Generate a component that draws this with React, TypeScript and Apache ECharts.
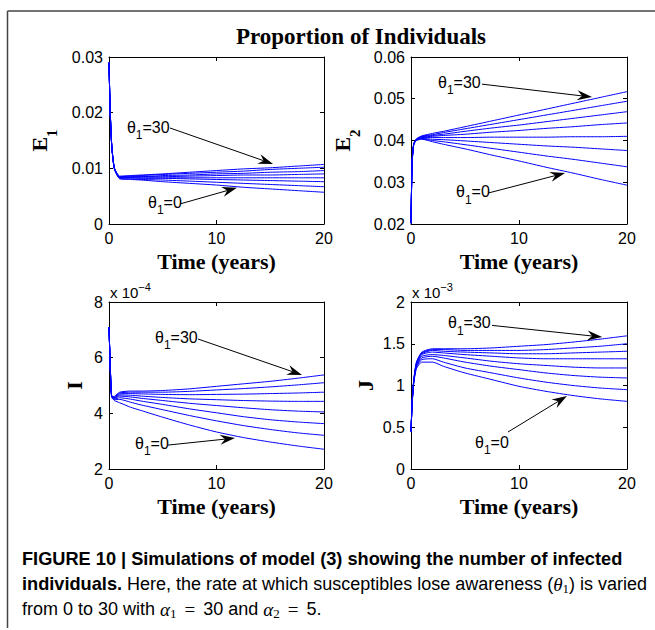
import React, { useEffect, useRef } from "react";
import * as echarts from "echarts";

const FONT_SANS = "'Liberation Sans', Arial, Helvetica, sans-serif";
const FONT_SERIF = "'Liberation Serif', 'Times New Roman', serif";

// ---------- data ----------
const TIME = [0, 0.1, 0.25, 0.5, 1, 2, 3, 5, 7.5, 10, 12.5, 15, 17.5, 20];
const TIME_TICKS = { min: 0, max: 20, interval: 10 };

// E1 (theta1 = 0 ... 30, bottom to top at t = 20)
const E1_0 = [0.029, 0.021, 0.0142, 0.0099, 0.0081, 0.008, 0.0079, 0.0076, 0.0073, 0.007, 0.0066, 0.0063, 0.006, 0.0057];
const E1_1 = [0.029, 0.021, 0.0142, 0.0099, 0.0082, 0.0081, 0.008, 0.0079, 0.0077, 0.0075, 0.0073, 0.0071, 0.0069, 0.0067];
const E1_2 = [0.029, 0.021, 0.0142, 0.01, 0.0083, 0.0083, 0.0082, 0.0082, 0.0081, 0.008, 0.0079, 0.0078, 0.0077, 0.0076];
const E1_3 = [0.029, 0.021, 0.0142, 0.01, 0.0083, 0.0083, 0.0083, 0.0083, 0.0083, 0.0083, 0.0083, 0.0083, 0.0083, 0.0083];
const E1_4 = [0.029, 0.021, 0.0142, 0.01, 0.0084, 0.0084, 0.0085, 0.0085, 0.0086, 0.0087, 0.0088, 0.0088, 0.0089, 0.009];
const E1_5 = [0.029, 0.021, 0.0142, 0.01, 0.0084, 0.0085, 0.0085, 0.0087, 0.0088, 0.009, 0.0091, 0.0093, 0.0094, 0.0096];
const E1_6 = [0.029, 0.021, 0.0142, 0.0101, 0.0085, 0.0086, 0.0087, 0.0089, 0.0091, 0.0093, 0.0095, 0.0098, 0.01, 0.0102];
const E1_7 = [0.029, 0.021, 0.0142, 0.0101, 0.0086, 0.0087, 0.0088, 0.009, 0.0093, 0.0096, 0.0099, 0.0101, 0.0104, 0.0107];

// E2
const E2_0 = [0.0202, 0.0345, 0.039, 0.04, 0.0403, 0.0397, 0.0391, 0.038, 0.0365, 0.0351, 0.0336, 0.0322, 0.0307, 0.0293];
const E2_1 = [0.0202, 0.0345, 0.039, 0.0401, 0.0404, 0.04, 0.0397, 0.039, 0.0381, 0.0372, 0.0363, 0.0355, 0.0346, 0.0337];
const E2_2 = [0.0202, 0.0345, 0.039, 0.0401, 0.0405, 0.0403, 0.0402, 0.0399, 0.0395, 0.0391, 0.0387, 0.0384, 0.038, 0.0376];
const E2_3 = [0.0202, 0.0345, 0.0391, 0.0402, 0.0407, 0.0407, 0.0407, 0.0407, 0.0408, 0.0408, 0.0408, 0.0409, 0.0409, 0.041];
const E2_4 = [0.0202, 0.0345, 0.0391, 0.0402, 0.0408, 0.041, 0.0412, 0.0415, 0.042, 0.0424, 0.0429, 0.0433, 0.0438, 0.0442];
const E2_5 = [0.0202, 0.0345, 0.0391, 0.0403, 0.0409, 0.0412, 0.0415, 0.0422, 0.043, 0.0437, 0.0445, 0.0453, 0.0461, 0.0469];
const E2_6 = [0.0202, 0.0345, 0.0392, 0.0403, 0.041, 0.0414, 0.0419, 0.0428, 0.0439, 0.045, 0.0461, 0.0472, 0.0483, 0.0494];
const E2_7 = [0.0202, 0.0345, 0.0392, 0.0404, 0.0411, 0.0417, 0.0422, 0.0433, 0.0447, 0.0461, 0.0475, 0.0489, 0.0503, 0.0517];

// I (units of 1e-4)
const I_0 = [7.1, 5.9, 4.6, 4.46, 4.38, 4.22, 4.1, 3.86, 3.58, 3.33, 3.13, 2.97, 2.83, 2.71];
const I_1 = [7.1, 5.9, 4.6, 4.49, 4.5, 4.4, 4.3, 4.13, 3.92, 3.73, 3.56, 3.42, 3.3, 3.21];
const I_2 = [7.1, 5.9, 4.6, 4.51, 4.56, 4.51, 4.44, 4.32, 4.16, 4.02, 3.88, 3.77, 3.69, 3.63];
const I_3 = [7.1, 5.9, 4.6, 4.53, 4.62, 4.59, 4.54, 4.46, 4.36, 4.28, 4.2, 4.13, 4.08, 4.05];
const I_4 = [7.1, 5.9, 4.6, 4.55, 4.66, 4.65, 4.62, 4.57, 4.52, 4.49, 4.46, 4.44, 4.43, 4.43];
const I_5 = [7.1, 5.9, 4.6, 4.57, 4.7, 4.71, 4.7, 4.68, 4.67, 4.68, 4.69, 4.71, 4.73, 4.76];
const I_6 = [7.1, 5.9, 4.6, 4.59, 4.73, 4.76, 4.76, 4.76, 4.79, 4.84, 4.89, 4.95, 5.02, 5.1];
const I_7 = [7.1, 5.9, 4.6, 4.61, 4.76, 4.8, 4.8, 4.82, 4.88, 4.97, 5.06, 5.15, 5.26, 5.38];

// J (units of 1e-3)
const J_0 = [0.45, 0.76, 1.02, 1.2, 1.28, 1.28, 1.23, 1.15, 1.07, 0.99, 0.93, 0.88, 0.84, 0.81];
const J_1 = [0.45, 0.77, 1.03, 1.22, 1.31, 1.32, 1.28, 1.21, 1.15, 1.09, 1.04, 1.0, 0.97, 0.95];
const J_2 = [0.45, 0.77, 1.04, 1.23, 1.33, 1.35, 1.33, 1.28, 1.23, 1.19, 1.15, 1.12, 1.1, 1.09];
const J_3 = [0.45, 0.77, 1.04, 1.24, 1.35, 1.37, 1.36, 1.33, 1.29, 1.26, 1.24, 1.22, 1.21, 1.21];
const J_4 = [0.45, 0.78, 1.05, 1.25, 1.37, 1.4, 1.39, 1.37, 1.35, 1.33, 1.32, 1.32, 1.32, 1.32];
const J_5 = [0.45, 0.78, 1.05, 1.26, 1.38, 1.42, 1.41, 1.4, 1.39, 1.38, 1.38, 1.39, 1.4, 1.41];
const J_6 = [0.45, 0.78, 1.06, 1.27, 1.39, 1.43, 1.43, 1.42, 1.42, 1.42, 1.43, 1.45, 1.47, 1.5];
const J_7 = [0.45, 0.78, 1.06, 1.28, 1.4, 1.44, 1.44, 1.44, 1.45, 1.47, 1.49, 1.52, 1.555, 1.595];

const Y_AXES = [
  { name: "{b|E}{s|1}", min: 0, max: 0.03, interval: 0.01, exponent: "" },
  { name: "{b|E}{s|2}", min: 0.02, max: 0.06, interval: 0.01, exponent: "" },
  { name: "{b|I}", min: 2, max: 8, interval: 2, exponent: "−4" },
  { name: "{b|J}", min: 0, max: 2, interval: 0.5, exponent: "−3" },
];
const CURVES = [
  [E1_0, E1_1, E1_2, E1_3, E1_4, E1_5, E1_6, E1_7],
  [E2_0, E2_1, E2_2, E2_3, E2_4, E2_5, E2_6, E2_7],
  [I_0, I_1, I_2, I_3, I_4, I_5, I_6, I_7],
  [J_0, J_1, J_2, J_3, J_4, J_5, J_6, J_7],
];
const LABEL_HIGH = "30";
const LABEL_LOW = "0";
// annotation anchors in data coordinates: [label left t, label y, arrow start t, y, arrow tip t, y]
const ANN_HIGH = [
  [1.67, 0.0174, 5.67, 0.01725, 15.26, 0.01078],
  [2.5, 0.054, 6.57, 0.0535, 16.76, 0.0504],
  [4.28, 6.74, 8.28, 6.67, 17.95, 5.38],
  [3.43, 1.75, 7.5, 1.72, 17.7, 1.58],
];
const ANN_LOW = [
  [3.63, 0.0039, 6.6, 0.0036, 11.9, 0.0065],
  [4.17, 0.0277, 7.13, 0.0274, 14.26, 0.0322],
  [2.42, 2.93, 5.49, 2.86, 11.72, 3.11],
  [5.93, 0.32, 8.98, 0.443, 14.44, 0.874],
];

const TITLE = "Proportion of Individuals";
const X_NAME = "Time (years)";
const CAPTION_LINES = [
  "{b|FIGURE 10 | Simulations of model (3) showing the number of infected}",
  "{b|individuals.}{r| Here, the rate at which susceptibles lose awareness (}{m|θ}{s|1}{r|) is varied}",
  "{r|from 0 to 30 with }{m|α}{s|1}{q|=}{r|30 and }{m|α}{s|2}{q|=}{r|5.}",
];

// ---------- layout ----------
const GRIDS = [
  { left: 109, top: 57, width: 215, height: 167 },
  { left: 411, top: 57, width: 216, height: 167 },
  { left: 109, top: 302, width: 215, height: 167 },
  { left: 411, top: 302, width: 216, height: 167 },
];
const NAME_GAPS = [50, 49, 24, 35];

const AX_COLOR = "#000";

function buildOption() {
  const xAxis: any[] = [];
  const yAxis: any[] = [];
  const series: any[] = [];
  GRIDS.forEach((_, g) => {
    const common = {
      type: "value",
      gridIndex: g,
      min: TIME_TICKS.min,
      max: TIME_TICKS.max,
      interval: TIME_TICKS.interval,
      splitLine: { show: false },
      axisLine: { show: true, onZero: false, lineStyle: { color: AX_COLOR, width: 1 } },
      axisTick: { show: true, inside: true, length: 4, lineStyle: { color: AX_COLOR } },
    };
    xAxis.push({
      ...common,
      position: "bottom",
      axisLabel: { color: "#000", fontFamily: FONT_SANS, fontSize: 16, margin: 6 },
      name: X_NAME,
      nameLocation: "middle",
      nameGap: 26,
      nameTextStyle: { fontFamily: FONT_SERIF, fontWeight: "bold", fontSize: 22, color: "#000" },
    });
    xAxis.push({ ...common, position: "top", axisLabel: { show: false } });
    const ya = Y_AXES[g];
    const ycommon = {
      type: "value",
      gridIndex: g,
      min: ya.min,
      max: ya.max,
      interval: ya.interval,
      splitLine: { show: false },
      axisLine: { show: true, onZero: false, lineStyle: { color: AX_COLOR, width: 1 } },
      axisTick: { show: true, inside: true, length: 4, lineStyle: { color: AX_COLOR } },
    };
    yAxis.push({
      ...ycommon,
      position: "left",
      axisLabel: { color: "#000", fontFamily: FONT_SANS, fontSize: 16, margin: 6 },
      name: ya.name,
      nameLocation: "middle",
      nameRotate: 90,
      nameGap: NAME_GAPS[g],
      nameTextStyle: {
        color: "#000",
        rich: {
          b: { fontFamily: FONT_SERIF, fontWeight: "bold", fontSize: 22, lineHeight: 22, verticalAlign: "top", color: "#000" },
          s: { fontFamily: FONT_SERIF, fontWeight: "bold", fontSize: 15, lineHeight: 31, verticalAlign: "bottom", color: "#000" },
        },
      },
    });
    yAxis.push({ ...ycommon, position: "right", axisLabel: { show: false } });
    CURVES[g].forEach((curve, k) => {
      series.push({
        type: "line",
        name: `panel ${g + 1} curve ${k + 1}`,
        xAxisIndex: 2 * g,
        yAxisIndex: 2 * g,
        data: TIME.map((t, i) => [t, curve[i]]),
        showSymbol: false,
        symbol: "none",
        smooth: 0.2,
        silent: true,
        lineStyle: { color: "#0000ff", width: 1 },
      });
    });
  });
  return {
    animation: false,
    backgroundColor: "#ffffff",
    grid: GRIDS.map((g) => ({ ...g, containLabel: false })),
    xAxis,
    yAxis,
    series,
  };
}

const LABEL_RICH = {
  m: { fontFamily: FONT_SANS, fontSize: 16, lineHeight: 16, verticalAlign: "top", color: "#000" },
  s: { fontFamily: FONT_SANS, fontSize: 12, lineHeight: 22, verticalAlign: "bottom", color: "#000" },
};

function arrow(p0: number[], p1: number[]) {
  const dx = p1[0] - p0[0];
  const dy = p1[1] - p0[1];
  const L = Math.hypot(dx, dy);
  const ux = dx / L;
  const uy = dy / L;
  const px = -uy;
  const py = ux;
  const HL = 15;
  const HW = 5;
  const NOTCH = 10;
  const base = [p1[0] - ux * NOTCH, p1[1] - uy * NOTCH];
  return [
    {
      type: "line",
      silent: true,
      shape: { x1: p0[0], y1: p0[1], x2: base[0], y2: base[1] },
      style: { stroke: "#000", lineWidth: 1 },
      z: 100,
    },
    {
      type: "polygon",
      silent: true,
      shape: {
        points: [
          [p1[0], p1[1]],
          [p1[0] - ux * HL + px * HW, p1[1] - uy * HL + py * HW],
          base,
          [p1[0] - ux * HL - px * HW, p1[1] - uy * HL - py * HW],
        ],
      },
      style: { fill: "#000" },
      z: 100,
    },
  ];
}

function buildGraphics(chart: any) {
  const els: any[] = [];
  // frame
  els.push({ type: "line", silent: true, shape: { x1: 7.5, y1: 11, x2: 655, y2: 11 }, style: { stroke: "#444", lineWidth: 1.5 } });
  els.push({ type: "line", silent: true, shape: { x1: 7.5, y1: 11, x2: 7.5, y2: 628 }, style: { stroke: "#444", lineWidth: 1.5 } });
  // title
  els.push({
    type: "text",
    silent: true,
    x: 361,
    y: 36,
    style: { text: TITLE, fontFamily: FONT_SERIF, fontWeight: "bold", fontSize: 23, fill: "#000", align: "center", verticalAlign: "middle" },
  });
  GRIDS.forEach((_, g) => {
    const si = g * 8;
    const conv = (t: number, v: number) => chart.convertToPixel({ seriesIndex: si }, [t, v]);
    [
      [ANN_HIGH[g], LABEL_HIGH],
      [ANN_LOW[g], LABEL_LOW],
    ].forEach(([a, lab]: any) => {
      const lp = conv(a[0], a[1]);
      els.push({
        type: "text",
        silent: true,
        x: lp[0],
        y: lp[1] - 8,
        z: 100,
        style: { text: `{m|θ}{s|1}{m|=${lab}}`, rich: LABEL_RICH, align: "left", verticalAlign: "top" },
      });
      els.push(...arrow(conv(a[2], a[3]), conv(a[4], a[5])));
    });
    const ya = Y_AXES[g];
    if (ya.exponent) {
      const p = conv(TIME_TICKS.min, ya.max);
      els.push({
        type: "text",
        silent: true,
        x: p[0] + 1,
        y: p[1] - 21,
        style: {
          text: `{m|x 10}{e|${ya.exponent}}`,
          rich: {
            m: { fontFamily: FONT_SANS, fontSize: 15, lineHeight: 19, verticalAlign: "bottom", color: "#000" },
            e: { fontFamily: FONT_SANS, fontSize: 11, lineHeight: 11, verticalAlign: "top", color: "#000" },
          },
          align: "left",
          verticalAlign: "top",
        },
      });
    }
  });
  // caption
  const capColor = "#231f20";
  const capRich = {
    b: { fontFamily: FONT_SANS, fontWeight: "bold", fontSize: 18.2, lineHeight: 20, verticalAlign: "top", color: capColor },
    r: { fontFamily: FONT_SANS, fontSize: 18, lineHeight: 20, verticalAlign: "top", color: capColor },
    m: { fontFamily: FONT_SERIF, fontStyle: "italic", fontSize: 19, lineHeight: 20, verticalAlign: "top", color: capColor },
    s: { fontFamily: FONT_SERIF, fontSize: 13, lineHeight: 20, verticalAlign: "bottom", color: capColor },
    q: { fontFamily: FONT_SERIF, fontSize: 19, lineHeight: 20, verticalAlign: "top", color: capColor, padding: [0, 8, 0, 8] },
  };
  CAPTION_LINES.forEach((t, i) => {
    els.push({
      type: "text",
      silent: true,
      x: 22,
      y: 550 + i * 25,
      style: { text: t, rich: capRich, align: "left", verticalAlign: "top" },
    });
  });
  return els;
}

export default function App() {
  const ref = useRef<HTMLDivElement>(null);
  useEffect(() => {
    if (!ref.current) return;
    const chart = echarts.init(ref.current, undefined, { renderer: "svg" });
    chart.setOption(buildOption() as any);
    chart.setOption({ graphic: { elements: buildGraphics(chart) } } as any);
    return () => chart.dispose();
  }, []);
  return (
    <div
      ref={ref}
      style={{ position: "absolute", left: 0, top: 0, width: 655, height: 630, background: "#fff" }}
    />
  );
}
